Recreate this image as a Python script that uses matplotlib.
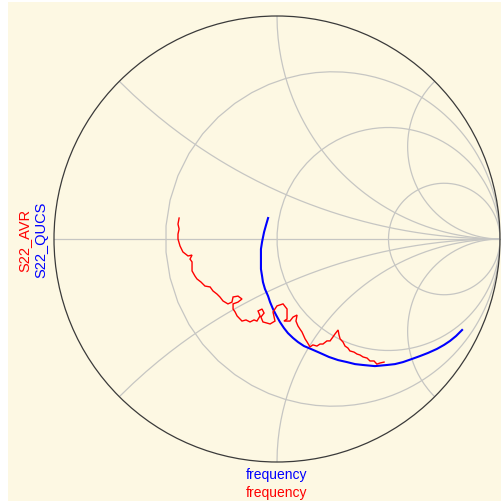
import numpy as np
import matplotlib
matplotlib.use("Agg")
import matplotlib.pyplot as plt
from matplotlib.patches import Circle, Rectangle

# Reflection coefficient traces sampled along the chart (pixel grid of the chart,
# centre (277, 240), unit radius 223 px), low to high frequency
s22_qucs_px = [(268, 219), (266, 226), (264, 233), (262, 243), (261, 250), (261, 257),
               (261, 264), (261, 270), (262, 277), (263, 283), (265, 290), (268, 297),
               (270, 303), (273, 310), (276, 316), (280, 323), (284, 329), (288, 334),
               (293, 339), (298, 343), (304, 347), (311, 350), (320, 354), (329, 358),
               (338, 361), (347, 363), (355, 365), (363, 366), (375, 367), (387, 366),
               (395, 365), (403, 363), (412, 360), (420, 357), (428, 354), (437, 350),
               (444, 346), (450, 342), (456, 337), (462, 331)]

s22_avr_px = [(179, 219), (178, 225), (179, 230), (178, 235), (178, 240), (180, 247),
              (183, 253), (188, 257), (192, 256), (190, 260), (192, 263), (192, 272),
              (195, 277), (197, 280), (201, 283), (205, 287), (210, 288), (213, 292),
              (217, 295), (220, 298), (223, 302), (228, 305), (232, 303), (233, 298),
              (238, 297), (242, 300), (238, 303), (233, 305), (233, 310), (235, 313),
              (237, 317), (242, 322), (246, 321), (250, 323), (254, 321), (257, 322),
              (260, 317), (258, 312), (262, 310), (264, 314), (261, 318), (263, 323),
              (267, 324), (270, 325), (275, 322), (273, 313), (277, 307), (283, 305),
              (287, 310), (287, 320), (284, 322), (290, 322), (293, 318), (297, 316),
              (296, 322), (298, 327), (300, 330), (302, 333), (305, 340), (307, 343),
              (310, 348), (313, 346), (317, 347), (320, 345), (323, 345), (327, 342),
              (330, 342), (333, 338), (335, 335), (338, 331), (339, 336), (340, 340),
              (343, 343), (345, 347), (348, 349), (350, 352), (354, 353), (357, 355),
              (360, 356), (363, 358), (367, 359), (370, 362), (374, 362), (377, 365),
              (380, 364), (384, 363)]

s22_qucs_re = [round((px - 277) / 223, 3) for px, py in s22_qucs_px]
s22_qucs_im = [round((240 - py) / 223, 3) for px, py in s22_qucs_px]
s22_avr_re = [round((px - 277) / 223, 3) for px, py in s22_avr_px]
s22_avr_im = [round((240 - py) / 223, 3) for px, py in s22_avr_px]

# Smith chart grid values
r_circles = [1 / 3, 1.0, 3.0]
x_arcs = [np.sqrt(2) - 1, 1.0, np.sqrt(2) + 1]

W, H = 501, 502
fig = plt.figure(figsize=(W / 100, H / 100), dpi=100, facecolor="white")
fig.patches.append(Rectangle((8 / W, 0), 1 - 8 / W, (H - 3) / H,
                             transform=fig.transFigure, facecolor="#fdf8e3",
                             edgecolor="none", zorder=-10))

cx, cy, R = 277, 240, 223
m = 1.02
ax = fig.add_axes([(cx - R * m) / W, (H - cy - R * m) / H, 2 * R * m / W, 2 * R * m / H])
ax.set_xlim(-m, m)
ax.set_ylim(-m, m)
ax.axis("off")
ax.patch.set_alpha(0)

clip = Circle((0, 0), 1.0, transform=ax.transData, facecolor="none", edgecolor="none")
ax.add_patch(clip)

grid_kw = dict(color="#c6c6c3", lw=0.9, zorder=1)

def gamma(z):
    g = (z - 1) / (z + 1)
    return g.real, g.imag

t = np.linspace(-np.pi / 2 + 1e-4, np.pi / 2 - 1e-4, 1500)
for r in r_circles:
    gx, gy = gamma(r + 1j * np.tan(t) * 50)
    ln, = ax.plot(gx, gy, **grid_kw)
    ln.set_clip_path(clip)
tr = np.linspace(0, np.pi / 2 - 1e-4, 1500)
for xv in x_arcs:
    for s in (1, -1):
        gx, gy = gamma(np.tan(tr) * 50 + 1j * s * xv)
        ln, = ax.plot(gx, gy, **grid_kw)
        ln.set_clip_path(clip)
ax.plot([-1, 1], [0, 0], **grid_kw)

ax.add_patch(Circle((0, 0), 1.0, facecolor="none", edgecolor="#3a3a3a", lw=0.9, zorder=2))

ax.plot(s22_avr_re, s22_avr_im, color="#ff0000", lw=1.0, zorder=4,
        solid_joinstyle="miter")
ax.plot(s22_qucs_re, s22_qucs_im, color="#0000ff", lw=1.5, zorder=3,
        solid_joinstyle="round")

font = ["Liberation Sans", "DejaVu Sans"]
fig.text(24 / W, 1 - 240 / H, "S22_AVR", color="#ff0000", rotation=90,
         ha="center", va="center", fontsize=10.5, family=font)
fig.text(41 / W, 1 - 240 / H, "S22_QUCS", color="#0000ff", rotation=90,
         ha="center", va="center", fontsize=10.5, family=font)
fig.text(277 / W, 1 - 475 / H, "frequency", color="#0000ff",
         ha="center", va="center", fontsize=10, family=font)
fig.text(277 / W, 1 - 493 / H, "frequency", color="#ff0000",
         ha="center", va="center", fontsize=10, family=font)

fig.savefig("out.png", dpi=100, facecolor=fig.get_facecolor())
